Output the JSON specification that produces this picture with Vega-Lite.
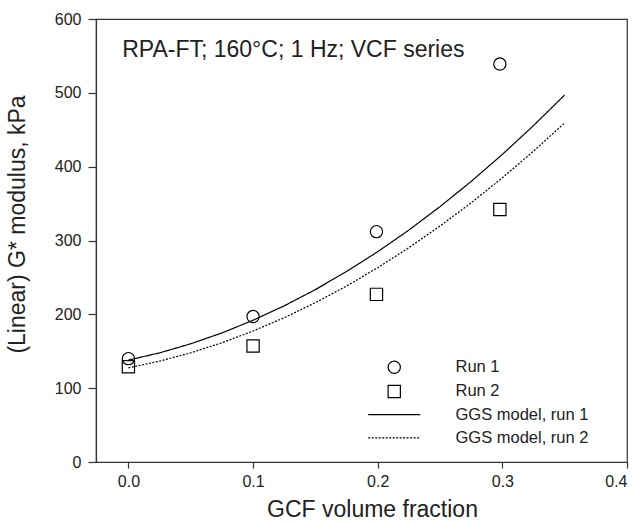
{
  "$schema": "https://vega.github.io/schema/vega-lite/v6.json",
  "width": 531,
  "height": 443,
  "autosize": "none",
  "padding": {"left": 96, "top": 19, "right": 13, "bottom": 59},
  "background": "white",
  "config": {
    "font": "Liberation Sans",
    "view": {"stroke": "#333", "strokeWidth": 1.2},
    "axis": {"grid": false, "domainColor": "#333", "tickColor": "#333", "labelColor": "#222", "titleColor": "#222", "labelFontSize": 16, "titleFontSize": 23, "titleFontWeight": "normal", "domainWidth": 1.2, "tickWidth": 1.2}
  },
  "datasets": {
    "points": [
      {"phi": 0.0, "G": 140, "series": "Run 1"},
      {"phi": 0.1, "G": 197, "series": "Run 1"},
      {"phi": 0.199, "G": 312, "series": "Run 1"},
      {"phi": 0.298, "G": 539, "series": "Run 1"},
      {"phi": 0.0, "G": 129, "series": "Run 2"},
      {"phi": 0.1, "G": 157, "series": "Run 2"},
      {"phi": 0.199, "G": 227, "series": "Run 2"},
      {"phi": 0.298, "G": 342, "series": "Run 2"}
    ],
    "model": [
      {"phi": 0.0, "G": 138.0, "model": "GGS model, run 1"},
      {"phi": 0.025, "G": 147.8, "model": "GGS model, run 1"},
      {"phi": 0.05, "G": 160.1, "model": "GGS model, run 1"},
      {"phi": 0.075, "G": 174.8, "model": "GGS model, run 1"},
      {"phi": 0.1, "G": 192.0, "model": "GGS model, run 1"},
      {"phi": 0.125, "G": 211.5, "model": "GGS model, run 1"},
      {"phi": 0.15, "G": 233.5, "model": "GGS model, run 1"},
      {"phi": 0.175, "G": 258.0, "model": "GGS model, run 1"},
      {"phi": 0.2, "G": 284.8, "model": "GGS model, run 1"},
      {"phi": 0.225, "G": 314.1, "model": "GGS model, run 1"},
      {"phi": 0.25, "G": 345.9, "model": "GGS model, run 1"},
      {"phi": 0.275, "G": 380.0, "model": "GGS model, run 1"},
      {"phi": 0.3, "G": 416.6, "model": "GGS model, run 1"},
      {"phi": 0.325, "G": 455.6, "model": "GGS model, run 1"},
      {"phi": 0.35, "G": 497.1, "model": "GGS model, run 1"},
      {"phi": 0.0, "G": 127.5, "model": "GGS model, run 2"},
      {"phi": 0.025, "G": 136.6, "model": "GGS model, run 2"},
      {"phi": 0.05, "G": 147.9, "model": "GGS model, run 2"},
      {"phi": 0.075, "G": 161.5, "model": "GGS model, run 2"},
      {"phi": 0.1, "G": 177.4, "model": "GGS model, run 2"},
      {"phi": 0.125, "G": 195.4, "model": "GGS model, run 2"},
      {"phi": 0.15, "G": 215.8, "model": "GGS model, run 2"},
      {"phi": 0.175, "G": 238.3, "model": "GGS model, run 2"},
      {"phi": 0.2, "G": 263.2, "model": "GGS model, run 2"},
      {"phi": 0.225, "G": 290.2, "model": "GGS model, run 2"},
      {"phi": 0.25, "G": 319.6, "model": "GGS model, run 2"},
      {"phi": 0.275, "G": 351.1, "model": "GGS model, run 2"},
      {"phi": 0.3, "G": 384.9, "model": "GGS model, run 2"},
      {"phi": 0.325, "G": 421.0, "model": "GGS model, run 2"},
      {"phi": 0.35, "G": 459.3, "model": "GGS model, run 2"}
    ],
    "note": [
      {"label": "RPA-FT; 160°C; 1 Hz; VCF series"}
    ]
  },
  "resolve": {"scale": {"x": "shared", "y": "shared"}},
  "layer": [
    {
      "data": {"name": "model"},
      "mark": {"type": "line", "color": "black", "strokeWidth": 1.2},
      "encoding": {
        "x": {"field": "phi", "type": "quantitative", "scale": {"domain": [-0.026, 0.4], "nice": false, "zero": false},
          "axis": {"values": [0, 0.1, 0.2, 0.3, 0.4], "format": ".1f", "tickSize": 6, "labelPadding": 5, "title": "GCF volume fraction", "titleX": 276, "titleY": 54, "titleBaseline": "alphabetic", "titleAlign": "center"}},
        "y": {"field": "G", "type": "quantitative", "scale": {"domain": [0, 600], "nice": false},
          "axis": {"values": [0, 100, 200, 300, 400, 500, 600], "tickSize": 8, "labelPadding": 7, "title": "(Linear) G* modulus, kPa", "titleAngle": -90, "titleX": -72, "titleY": 205, "titleBaseline": "alphabetic", "titleAlign": "center"}},
        "strokeDash": {"field": "model", "type": "nominal", "scale": {"domain": ["GGS model, run 1", "GGS model, run 2"], "range": [[1, 0], [2, 1.5]]}, "legend": null}
      }
    },
    {
      "data": {"name": "points"},
      "mark": {"type": "point", "filled": false, "color": "black", "strokeWidth": 1.2, "size": 150, "opacity": 1},
      "encoding": {
        "x": {"field": "phi", "type": "quantitative"},
        "y": {"field": "G", "type": "quantitative"},
        "shape": {"field": "series", "type": "nominal",
          "scale": {"domain": ["Run 1", "Run 2", "GGS model, run 1", "GGS model, run 2"],
            "range": ["circle", "square", "M-4.25,0H4.25", "M-4.25,0H-3.92M-3.68,0H-3.35M-3.11,0H-2.78M-2.54,0H-2.21M-1.97,0H-1.64M-1.4,0H-1.07M-0.83,0H-0.5M-0.26,0H0.07M0.31,0H0.64M0.88,0H1.21M1.45,0H1.78M2.02,0H2.35M2.59,0H2.92M3.16,0H3.49M3.73,0H4.06"]},
          "legend": {"title": null, "orient": "none", "legendX": 290, "legendY": 340, "symbolSize": 150, "symbolStrokeColor": "black", "symbolFillColor": "transparent", "symbolStrokeWidth": 1.2, "labelFontSize": 16.5, "labelColor": "#222", "labelOffset": 53, "rowPadding": 6.2, "symbolOpacity": 1}
        }
      }
    },
    {
      "data": {"name": "note"},
      "mark": {"type": "text", "align": "left", "baseline": "alphabetic", "fontSize": 23, "color": "#222"},
      "encoding": {
        "x": {"datum": -0.005, "type": "quantitative"},
        "y": {"datum": 549, "type": "quantitative"},
        "text": {"field": "label", "type": "nominal"}
      }
    }
  ]
}
